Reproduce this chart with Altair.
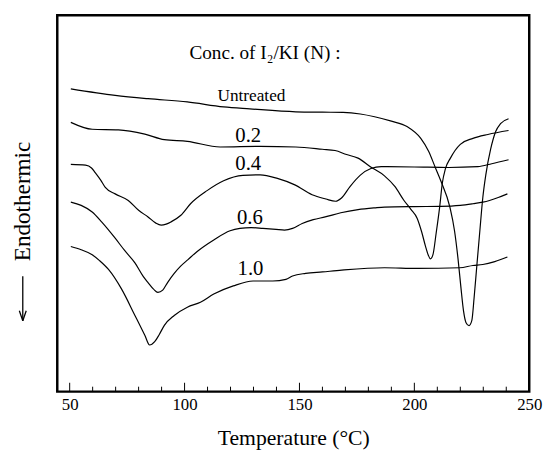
import altair as alt
import pandas as pd

# ---- data (T in deg C, V = signal in arbitrary units) ----
untreated_t = [50.5, 69.8, 84.1, 101.2, 117, 128.4, 148.4, 160, 169, 176.5, 182.7, 190, 196.8, 202.8, 206.2,
               209.2, 211.5, 215.5, 217.5, 219, 220.3, 221.4, 222.5, 223.8, 225, 226, 227.2, 228.5, 229.8,
               231.1, 233.2, 235.4, 237.5, 241]
untreated_v = [307.3, 300.7, 297.3, 294, 289, 287, 284, 283.6, 283.4, 281.8, 279, 274.5, 269, 257, 244,
               227, 214, 187, 163, 135, 105, 82, 70, 67, 72, 95, 128, 163, 197,
               220, 246, 264, 272, 277]

c02_t = [50.5, 59.8, 71.2, 82.7, 91.2, 101.2, 115.5, 132.9, 148.4, 160, 165.5, 170.5, 175.5, 181, 187,
         191.6, 195.5, 198.5, 201.2, 203.2, 204.8, 206, 207, 208.1, 209.5, 211, 212.2, 213.5, 215.7,
         220, 225.5, 232, 241]
c02_v = [273.3, 266.3, 265.7, 261.3, 255.7, 254, 248.3, 248.9, 248.3, 246, 244.7, 240.6, 237, 228, 219,
         208, 194, 185, 176, 162, 148, 139, 134.7, 139, 161, 187, 212, 226, 237,
         251, 257, 261, 265]

c04_t = [50.5, 56.9, 59.5, 61.2, 63.5, 65.5, 69.8, 75.5, 80, 84.1, 87.5, 89.8, 92, 94.1, 98.4, 102.6,
         109.8, 117, 125.4, 132.9, 140.4, 148, 155.5, 161.5, 165.7, 168.3, 172, 176.5, 181.1, 185.6,
         200, 215, 227.6, 233.7, 241]
c04_v = [230.7, 229.8, 227, 222, 214.7, 207.3, 200.7, 194, 184, 177.3, 171, 169, 170, 172.3, 179, 190.7,
         204, 214, 219.4, 220, 216.4, 209.8, 199.8, 195.5, 193.2, 196.5, 208.1, 219.7, 226.4, 228.3,
         228, 227.5, 228.3, 231.3, 235.3]

c06_t = [50.5, 55, 59.8, 64, 69.8, 74, 78.4, 82, 84.1, 86.5, 88.4, 90.5, 92.6, 95.5, 98.3, 101.5, 105.5,
         112.7, 119.8, 124.1, 129, 134.1, 139.8, 143.5, 147, 151.2, 156, 161.2, 168, 175.5, 182.7, 187,
         200, 211.3, 220, 225.5, 229.8, 232.7, 236.5, 240.5]
c06_v = [192.3, 189, 182.3, 172, 155.7, 143, 130.7, 117, 110.7, 104, 100.7, 103, 110.7, 120, 127.3, 134,
         142.3, 154, 163.3, 165.7, 166.5, 165.7, 164.7, 164, 165.7, 170.7, 174.5, 177.3, 181.5, 184.7,
         186.5, 187.3, 187.8, 188, 189, 190.7, 192.3, 194, 197, 200.7]

c10_t = [50.5, 55, 59.8, 63, 66.9, 72.6, 78.4, 82.7, 84.8, 87, 89, 91.2, 95.5, 101.2, 106.9, 112.7,
         121.2, 129.8, 138.4, 144.1, 147, 152.7, 160, 168.4, 187, 201.2, 219.8, 225.5, 229.8, 235, 240.5]
c10_v = [147.3, 144, 139, 133, 124, 104, 77.3, 57.3, 47.3, 50.7, 58, 67.3, 77.3, 85.7, 90.7, 99,
         107.3, 112.3, 112.3, 114, 117.3, 120, 121.5, 123.3, 125.7, 125, 125.7, 128, 129, 132, 136.7]

series_names = ["Untreated", "0.2", "0.4", "0.6", "1.0"]
label_t = [129.1, 127.7, 127.7, 128.4, 128.7]
label_v = [299.7, 259, 230.7, 175.7, 124]
label_fs = [17.5, 21, 21, 21, 21]

legend_title = "Conc. of I\u2082/KI (N) :"
legend_t = [135]
legend_v = [344]

major_ticks = [50, 100, 150, 200, 250]
minor_ticks = [60, 70, 80, 90, 110, 120, 130, 140, 160, 170, 180, 190, 210, 220, 230, 240]

# ---- build tables ----
rows = []
for name, ts, vs in zip(series_names,
                        [untreated_t, c02_t, c04_t, c06_t, c10_t],
                        [untreated_v, c02_v, c04_v, c06_v, c10_v]):
    for t, v in zip(ts, vs):
        rows.append({"series": name, "T": t, "V": v})
df = pd.DataFrame(rows)
labels_df = pd.DataFrame({"text": series_names, "T": label_t, "V": label_v, "fs": label_fs})
legend_df = pd.DataFrame({"text": [legend_title], "T": legend_t, "V": legend_v})
major_df = pd.DataFrame({"T": major_ticks})
minor_df = pd.DataFrame({"T": minor_ticks})
one = pd.DataFrame({"a": [0]})

W, H = 479, 382
FONT = "Liberation Serif, DejaVu Serif, serif"

x_scale = alt.Scale(domain=[44.6, 250], nice=False, zero=False)
y_scale = alt.Scale(domain=[0, 382], nice=False, zero=False)

lines = alt.Chart(df).mark_line(color="black", strokeWidth=1.2, interpolate="monotone").encode(
    x=alt.X("T:Q", scale=x_scale,
            axis=alt.Axis(values=major_ticks, ticks=False, domain=False, grid=False,
                          labelFont=FONT, labelFontSize=17, labelColor="black",
                          labelPadding=5, labelFlush=False,
                          title="Temperature (\u00b0C)", titleFont=FONT, titleFontSize=22,
                          titleFontWeight="normal", titleColor="black", titlePadding=16)),
    y=alt.Y("V:Q", scale=y_scale, axis=None),
    detail="series:N",
)

labels = alt.Chart(labels_df).mark_text(font=FONT, color="black", baseline="middle", align="center").encode(
    x=alt.X("T:Q", scale=x_scale),
    y=alt.Y("V:Q", scale=y_scale),
    text="text:N",
    size=alt.Size("fs:Q", scale=None, legend=None),
)

legend = alt.Chart(legend_df).mark_text(font=FONT, fontSize=19.5, color="black",
                                        baseline="middle", align="center").encode(
    x=alt.X("T:Q", scale=x_scale),
    y=alt.Y("V:Q", scale=y_scale),
    text="text:N",
)

major = alt.Chart(major_df).mark_rule(color="black", strokeWidth=1).encode(
    x=alt.X("T:Q", scale=x_scale), y=alt.value(H), y2=alt.value(H - 9))
minor = alt.Chart(minor_df).mark_rule(color="black", strokeWidth=1).encode(
    x=alt.X("T:Q", scale=x_scale), y=alt.value(H), y2=alt.value(H - 5))

ylab = alt.Chart(pd.DataFrame({"t": ["Endothermic"]})).mark_text(
    font=FONT, fontSize=23.5, angle=270, color="black", baseline="middle", align="center").encode(
    text="t:N", x=alt.value(-35), y=alt.value(189))

# downward arrow below the y label
shaft = alt.Chart(one).mark_rule(color="black", strokeWidth=1.3).encode(
    x=alt.value(-35), x2=alt.value(-35), y=alt.value(265), y2=alt.value(310))
head_l = alt.Chart(one).mark_rule(color="black", strokeWidth=1.3).encode(
    x=alt.value(-38.5), x2=alt.value(-35), y=alt.value(300), y2=alt.value(310))
head_r = alt.Chart(one).mark_rule(color="black", strokeWidth=1.3).encode(
    x=alt.value(-31.5), x2=alt.value(-35), y=alt.value(300), y2=alt.value(310))

chart = alt.layer(lines, minor, major, labels, legend, ylab, shaft, head_l, head_r).properties(
    width=W, height=H,
    autosize=alt.AutoSizeParams(type="none"),
    padding={"left": 50, "top": 4, "right": 16, "bottom": 63},
    background="white",
).configure_view(stroke="black", strokeWidth=2.5)

chart.save("out.html", embed_options={"renderer": "svg", "actions": False})
